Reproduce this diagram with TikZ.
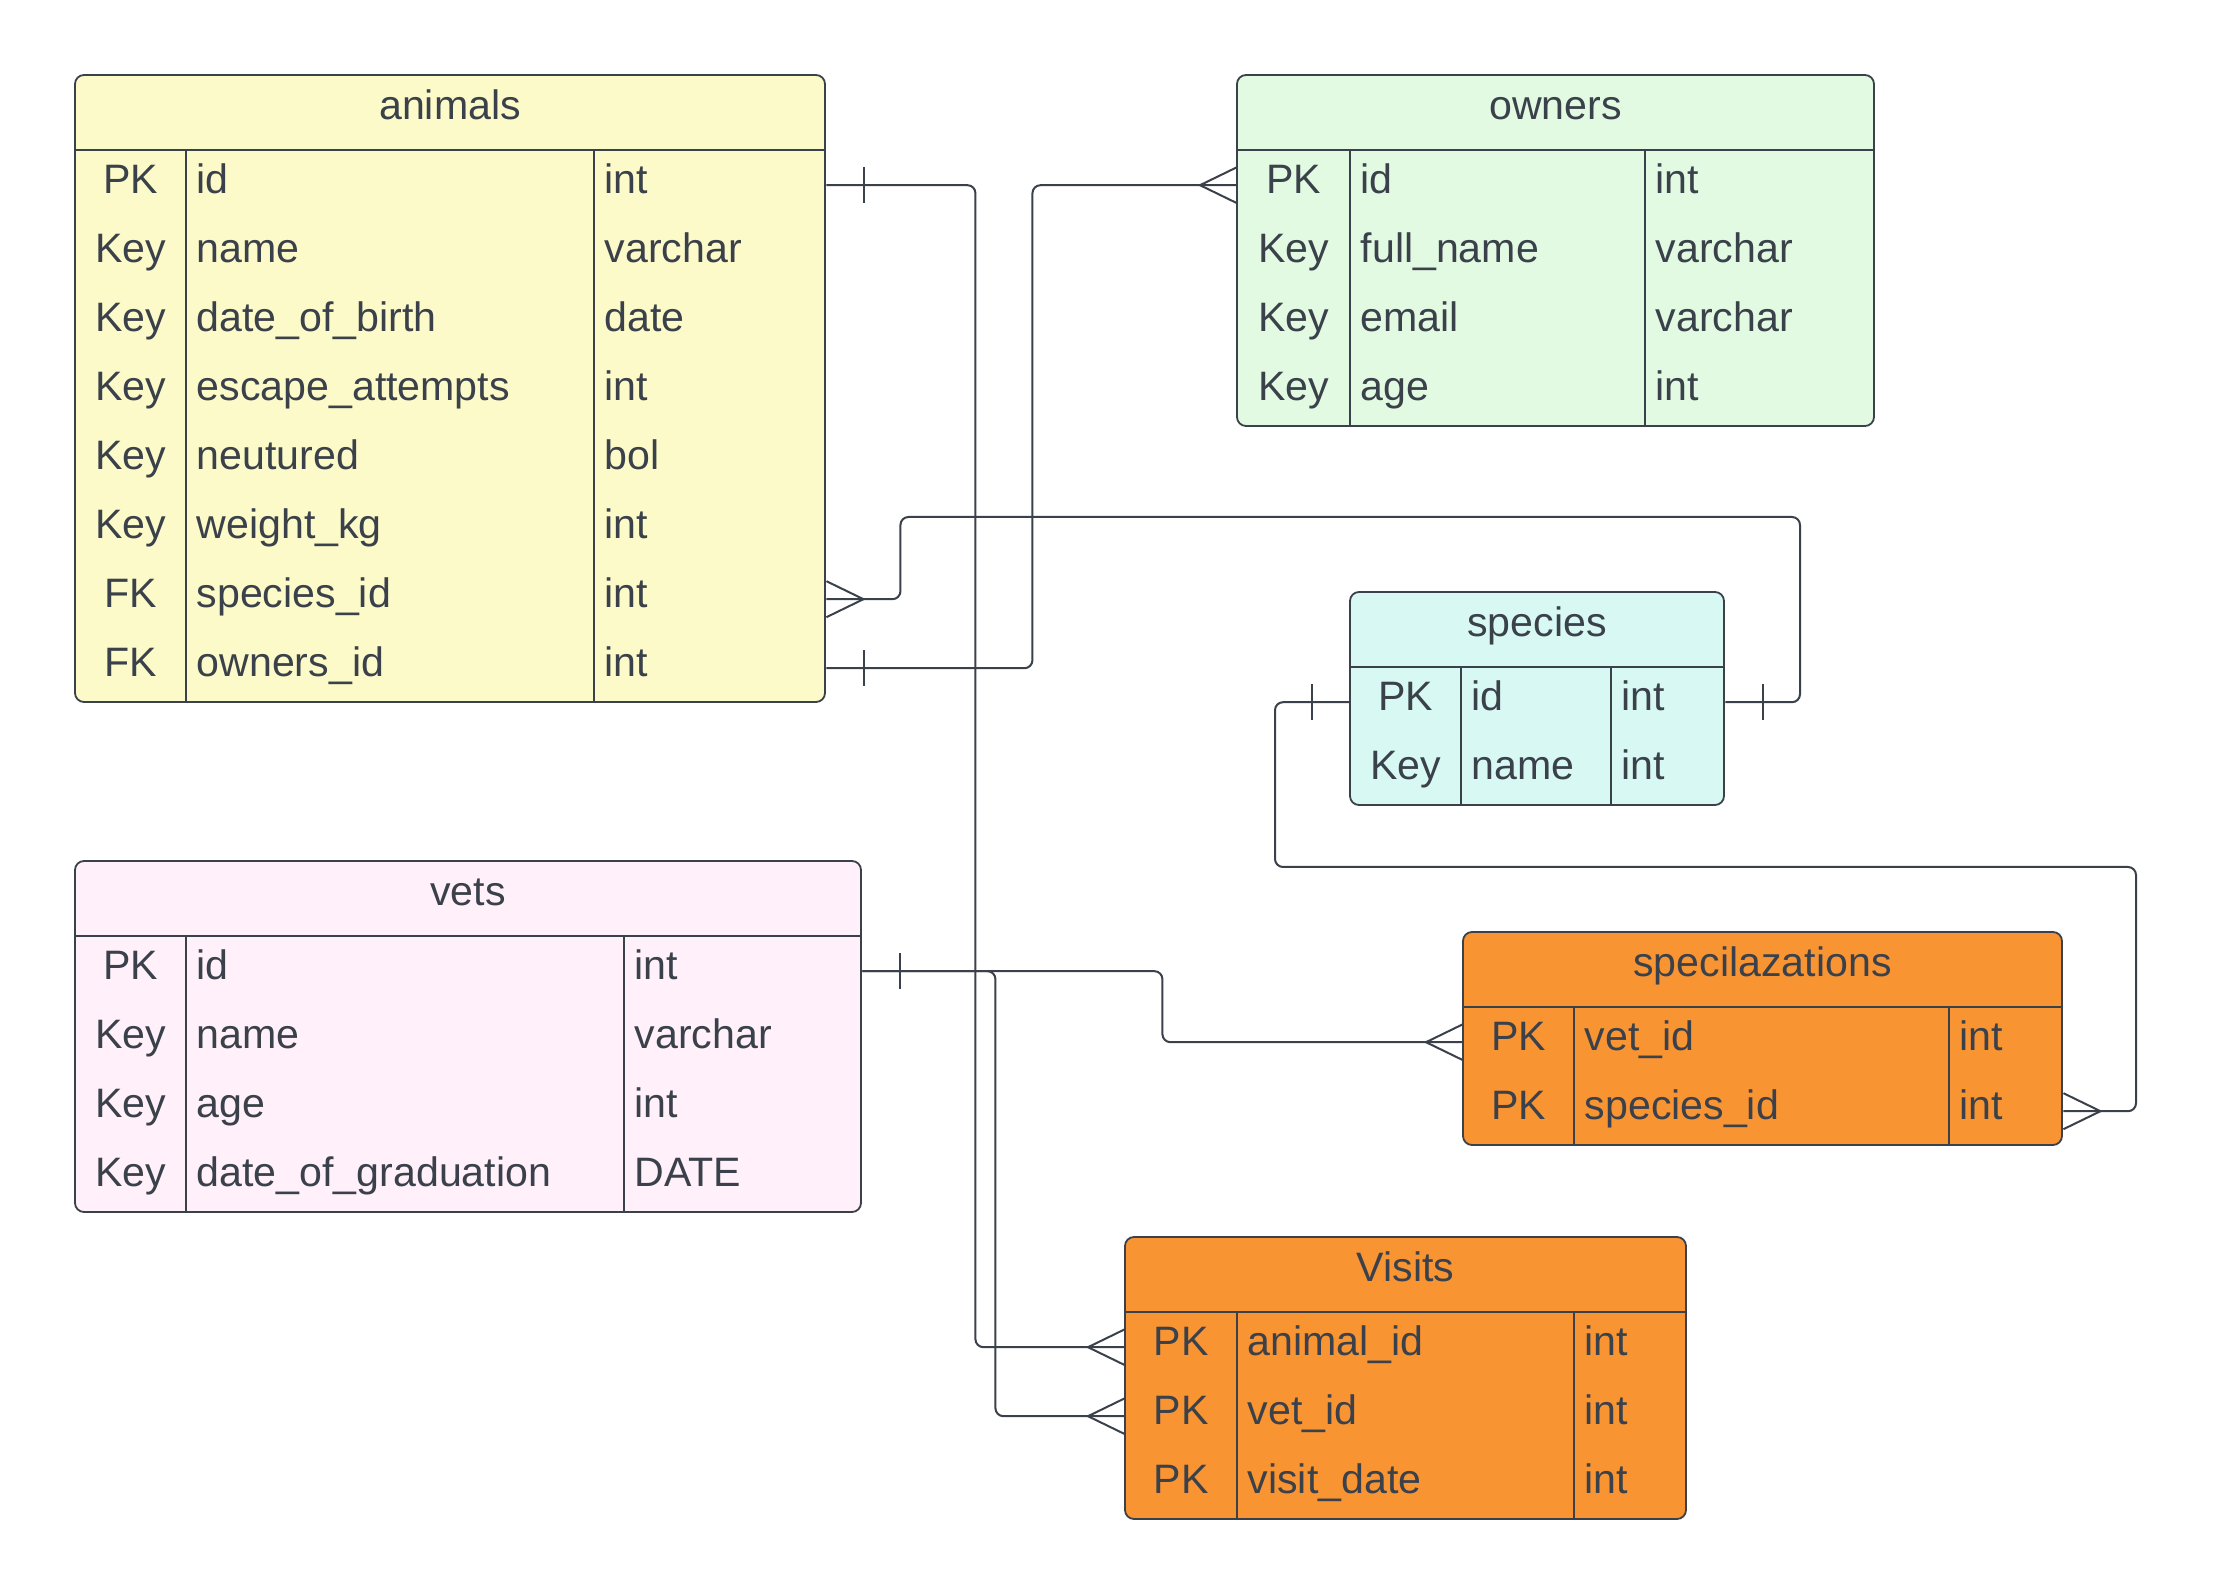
\documentclass[tikz,border=0pt]{standalone}
\usepackage{fontspec}
\setmainfont{Liberation Sans}

\definecolor{inkline}{HTML}{3A414A}
\definecolor{animalsfill}{HTML}{FCFAC8}
\definecolor{ownersfill}{HTML}{E2FAE2}
\definecolor{speciesfill}{HTML}{D8F9F3}
\definecolor{vetsfill}{HTML}{FFF0FA}
\definecolor{joinfill}{HTML}{F99433}

\newcommand{\headh}{75}
\newcommand{\rowh}{69}

\tikzset{
  tablebox/.style={draw=inkline, line width=0.18mm, rounded corners=0.9mm},
  tableline/.style={draw=inkline, line width=0.18mm},
  rowcell/.style={inner sep=0pt, minimum height=6.9mm, anchor=north west},
  celltext/.style={text=inkline, font=\fontsize{11.7}{14}\selectfont, inner sep=0pt,
    text height=3.1mm, text depth=1.33mm},
  keytext/.style={celltext},
  fieldtext/.style={celltext, anchor=west},
  titletext/.style={celltext, text depth=1.6mm},
  conn/.style={draw=inkline, line width=0.2mm, rounded corners=0.8mm},
  footline/.style={draw=inkline, line width=0.2mm},
}

% #1 name #2 fill #3 left #4 top #5 right #6 col one #7 col two #8 rows #9 fields
\newcommand{\ertable}[9]{%
  \pgfmathsetmacro{\tb}{#4+\headh+#8*\rowh}
  \pgfmathsetmacro{\tw}{(#5-#3)*0.1}
  \draw[tablebox, fill=#2] (#3,#4) rectangle (#5,\tb);
  \node[titletext] (#1) at ({(#3+#5)/2},{#4+\headh/2}) {#1};
  \draw[tableline] (#3,{#4+\headh}) -- (#5,{#4+\headh});
  \draw[tableline] (#6,{#4+\headh}) -- (#6,\tb);
  \draw[tableline] (#7,{#4+\headh}) -- (#7,\tb);
  \foreach \ky/\fd/\ty/\rn [count=\i] in {#9} {
    \pgfmathsetmacro{\ry}{#4+\headh+(\i-0.5)*\rowh}
    \node[rowcell, minimum width=\tw mm] (#1-\rn) at (#3,{#4+\headh+(\i-1)*\rowh}) {};
    \node[keytext] (#1-\rn-k) at ({(#3+#6)/2},\ry) {\ky};
    \node[fieldtext] (#1-\rn-f) at ({#6+10},\ry) {\fd};
    \node[fieldtext] (#1-\rn-t) at ({#7+10},\ry) {\ty};
  }
}

% crow foot, #2 = 1 opens to the right, -1 to the left
\newcommand{\manyend}[2]{%
  \draw[footline] (#1) ++(0,-18) -- ++({#2*37},18) -- ++({-(#2)*37},18);
}
\newcommand{\oneend}[2]{%
  \draw[footline] (#1) ++({#2*38},-18) -- ++(0,36);
}

\begin{document}
\begin{tikzpicture}[x=0.1mm,y=-0.1mm]
\useasboundingbox (0,0) rectangle (2214,1596);

\ertable{animals}{animalsfill}{75}{75}{825}{186}{594}{8}{%
  PK/id/int/id, Key/name/varchar/name, Key/date\_of\_birth/date/dob,
  Key/escape\_attempts/int/escape, Key/neutured/bol/neutured,
  Key/weight\_kg/int/weight, FK/species\_id/int/speciesid, FK/owners\_id/int/ownersid}

\ertable{owners}{ownersfill}{1237}{75}{1874}{1350}{1645}{4}{%
  PK/id/int/id, Key/full\_name/varchar/fullname, Key/email/varchar/email, Key/age/int/age}

\ertable{species}{speciesfill}{1350}{592}{1724}{1461}{1611}{2}{%
  PK/id/int/id, Key/name/int/name}

\ertable{vets}{vetsfill}{75}{861}{861}{186}{624}{4}{%
  PK/id/int/id, Key/name/varchar/name, Key/age/int/age,
  Key/date\_of\_graduation/DATE/grad}

\ertable{specilazations}{joinfill}{1463}{932}{2062}{1574}{1949}{2}{%
  PK/vet\_id/int/vetid, PK/species\_id/int/speciesid}

\ertable{Visits}{joinfill}{1125}{1237}{1686}{1237}{1574}{3}{%
  PK/animal\_id/int/animalid, PK/vet\_id/int/vetid, PK/visit\_date/int/date}

% relations
\draw[conn] (animals-id.east) -- ++(149,0) |- (Visits-animalid.west);
\oneend{animals-id.east}{1}
\manyend{Visits-animalid.west}{-1}

\draw[conn] (animals-ownersid.east) -- ++(206,0) |- (owners-id.west);
\oneend{animals-ownersid.east}{1}
\manyend{owners-id.west}{-1}

\draw[conn] (animals-speciesid.east) -- ++(74,0) |- (1800,517) |- (species-id.east);
\manyend{animals-speciesid.east}{1}
\oneend{species-id.east}{1}

\draw[conn] (species-id.west) -- ++(-75,0) |- (2136,867) |- (specilazations-speciesid.east);
\oneend{species-id.west}{-1}
\manyend{specilazations-speciesid.east}{1}

\draw[conn] (vets-id.east) -- ++(300,0) |- (specilazations-vetid.west);
\draw[conn] (vets-id.east) -- ++(133,0) |- (Visits-vetid.west);
\oneend{vets-id.east}{1}
\manyend{specilazations-vetid.west}{-1}
\manyend{Visits-vetid.west}{-1}
\end{tikzpicture}
\end{document}
